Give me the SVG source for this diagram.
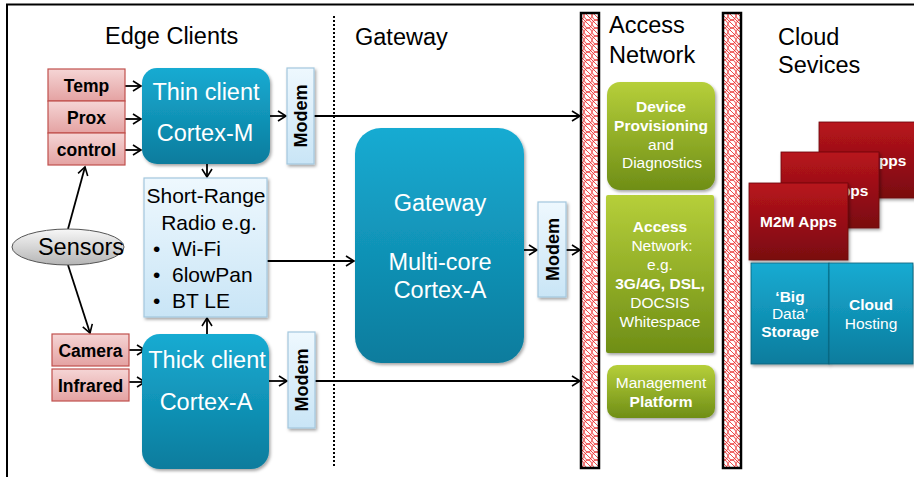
<svg xmlns="http://www.w3.org/2000/svg" width="914" height="477" viewBox="0 0 914 477">
<defs>
<linearGradient id="gTeal" x1="0" y1="0" x2="0" y2="1"><stop offset="0" stop-color="#18abd2"/><stop offset="1" stop-color="#0a7c9d"/></linearGradient>
<linearGradient id="gPink" x1="0" y1="0" x2="0" y2="1"><stop offset="0" stop-color="#f5d5d5"/><stop offset="1" stop-color="#e4a2a2"/></linearGradient>
<linearGradient id="gLight" x1="0" y1="0" x2="0" y2="1"><stop offset="0" stop-color="#eef8fe"/><stop offset="1" stop-color="#c9e5f6"/></linearGradient>
<linearGradient id="gGray" x1="0" y1="0" x2="0" y2="1"><stop offset="0" stop-color="#f7f7f7"/><stop offset="1" stop-color="#b5b5b5"/></linearGradient>
<linearGradient id="gGreen" x1="0" y1="0" x2="0" y2="1"><stop offset="0" stop-color="#b6cf3a"/><stop offset="1" stop-color="#6f8e16"/></linearGradient>
<linearGradient id="gRed" x1="0" y1="0" x2="0" y2="1"><stop offset="0" stop-color="#b8141c"/><stop offset="1" stop-color="#7a0a10"/></linearGradient>
<pattern id="hatch" width="8" height="8" patternUnits="userSpaceOnUse">
<rect width="8" height="8" fill="#fff"/>
<path d="M0,8 Q1,4 4,4 T8,0 M0,0 Q1,4 4,4 T8,8 M0,4 Q2,6 4,8 M4,0 Q6,2 8,4" stroke="#e81e1e" stroke-width="0.8" fill="none"/>
</pattern>
<filter id="sh" x="-10%" y="-10%" width="130%" height="130%"><feDropShadow dx="1.5" dy="2" stdDeviation="1.5" flood-color="#000" flood-opacity="0.35"/></filter>
<marker id="arr" markerUnits="userSpaceOnUse" markerWidth="12" markerHeight="12" refX="9" refY="6" orient="auto"><path d="M1,1 L9,6 L1,11" fill="none" stroke="#000" stroke-width="1.6"/></marker>
<style>
text{font-family:"Liberation Sans",Arial,sans-serif}
.hdr{font-size:23.5px;fill:#000}
.sen{font-size:17.5px;font-weight:bold;fill:#000;text-anchor:middle}
.pink{fill:url(#gPink);stroke:#c0504d;stroke-width:1.2}
.teal{fill:url(#gTeal);filter:url(#sh)}
.wt{font-size:23.5px;fill:#fff;text-anchor:middle}
.modem{fill:url(#gLight);stroke:#a3c7de;stroke-width:1.2;filter:url(#sh)}
.mt{font-size:18px;font-weight:bold;fill:#000;text-anchor:middle}
.green{fill:url(#gGreen);filter:url(#sh)}
.gt{font-size:15.5px;fill:#fff;text-anchor:middle}
.b{font-weight:bold}
.red{fill:url(#gRed);stroke:#6a0a0e;stroke-width:0.8;filter:url(#sh)}
.blue{fill:url(#gTeal);stroke:#0a5f78;stroke-width:0.8;filter:url(#sh)}
.bar{fill:url(#hatch);stroke:#000;stroke-width:2.5}
.ln{stroke:#000;stroke-width:1.8;fill:none}
</style>
</defs>
<rect width="914" height="477" fill="#fff"/>
<path d="M7,477 V4.5 H914" fill="none" stroke="#000" stroke-width="2"/>
<line x1="334" y1="16" x2="334" y2="467" stroke="#000" stroke-width="2" stroke-dasharray="2,2"/>
<rect class="bar" x="581" y="13" width="18" height="455"/>
<rect class="bar" x="723" y="13" width="18" height="455"/>

<text class="hdr" x="105" y="44">Edge Clients</text>
<text class="hdr" x="355" y="45">Gateway</text>
<text class="hdr" x="609" y="33">Access</text>
<text class="hdr" x="609" y="63">Network</text>
<text class="hdr" x="778" y="45">Cloud</text>
<text class="hdr" x="778" y="73">Sevices</text>

<g id="connectors">
<line class="ln" x1="125" y1="86" x2="141" y2="86" marker-end="url(#arr)"/>
<line class="ln" x1="125" y1="119" x2="141" y2="119" marker-end="url(#arr)"/>
<line class="ln" x1="125" y1="150" x2="141" y2="150" marker-end="url(#arr)"/>
<line class="ln" x1="129" y1="350" x2="145" y2="350" marker-end="url(#arr)"/>
<line class="ln" x1="129" y1="382" x2="145" y2="382" marker-end="url(#arr)"/>
<line class="ln" x1="68" y1="229" x2="85" y2="167" marker-end="url(#arr)"/>
<line class="ln" x1="68" y1="265" x2="90" y2="333" marker-end="url(#arr)"/>
<line class="ln" x1="207" y1="164" x2="207" y2="177" marker-end="url(#arr)"/>
<line class="ln" x1="207" y1="334" x2="207" y2="318" marker-end="url(#arr)"/>
<line class="ln" x1="270" y1="116" x2="286" y2="116" marker-end="url(#arr)"/>
<line class="ln" x1="314" y1="116" x2="580" y2="116" marker-end="url(#arr)"/>
<line class="ln" x1="269" y1="381" x2="287" y2="381" marker-end="url(#arr)"/>
<line class="ln" x1="315" y1="381" x2="580" y2="381" marker-end="url(#arr)"/>
<line class="ln" x1="267" y1="261" x2="354" y2="261" marker-end="url(#arr)"/>
<line class="ln" x1="524" y1="250" x2="537" y2="250" marker-end="url(#arr)"/>
<line class="ln" x1="566" y1="250" x2="580" y2="250" marker-end="url(#arr)"/>
</g>

<g id="sensor-stack">
<rect class="pink" x="48" y="69" width="77" height="32"/>
<rect class="pink" x="48" y="101" width="77" height="32"/>
<rect class="pink" x="48" y="133" width="77" height="32"/>
<text class="sen" x="86.5" y="92">Temp</text>
<text class="sen" x="86.5" y="124">Prox</text>
<text class="sen" x="86.5" y="156">control</text>
</g>
<g id="camera">
<rect class="pink" x="52" y="334" width="77" height="32"/>
<text class="sen" x="90.5" y="357">Camera</text>
</g>
<g id="infrared">
<rect class="pink" x="52" y="369" width="77" height="32"/>
<text class="sen" x="90.5" y="392">Infrared</text>
</g>
<g id="sensors">
<ellipse cx="68" cy="247" rx="56" ry="18" fill="url(#gGray)" stroke="#555" stroke-width="1"/>
<text x="81" y="255" font-size="23.5" text-anchor="middle" fill="#000">Sensors</text>
</g>
<g id="thin-client">
<rect class="teal" x="142" y="68" width="128" height="96" rx="15"/>
<text class="wt" x="206" y="100">Thin client</text>
<text class="wt" x="205" y="141">Cortex-M</text>
</g>
<g id="short-range">
<rect x="144" y="178" width="123" height="139" fill="url(#gLight)" stroke="#a3c7de" stroke-width="1.2" filter="url(#sh)"/>
<text x="206" y="203" font-size="21" text-anchor="middle">Short-Range</text>
<text x="209" y="230" font-size="21" text-anchor="middle">Radio e.g.</text>
<text x="153" y="256" font-size="21">•</text>
<text x="172" y="256" font-size="21">Wi-Fi</text>
<text x="153" y="282" font-size="21">•</text>
<text x="172" y="282" font-size="21">6lowPan</text>
<text x="153" y="308" font-size="21">•</text>
<text x="172" y="308" font-size="21">BT LE</text>
</g>
<g id="thick-client">
<rect class="teal" x="142" y="334" width="127" height="135" rx="18"/>
<text class="wt" x="207" y="368">Thick client</text>
<text class="wt" x="206" y="410">Cortex-A</text>
</g>
<g id="modem1">
<rect class="modem" x="287" y="68" width="27" height="96"/>
<text class="mt" transform="translate(307,116) rotate(-90)">Modem</text>
</g>
<g id="modem2">
<rect class="modem" x="288" y="332" width="27" height="96"/>
<text class="mt" transform="translate(308,380) rotate(-90)">Modem</text>
</g>
<g id="gateway">
<rect class="teal" x="355" y="128" width="169" height="235" rx="26"/>
<text class="wt" x="440" y="211">Gateway</text>
<text class="wt" x="440" y="270">Multi-core</text>
<text class="wt" x="440" y="298">Cortex-A</text>
</g>
<g id="modem3">
<rect class="modem" x="538" y="202" width="28" height="95"/>
<text class="mt" transform="translate(558.5,249.5) rotate(-90)">Modem</text>
</g>
<g id="device-provisioning">
<rect class="green" x="607" y="82" width="108" height="108" rx="13"/>
<text class="gt b" x="661" y="112">Device</text>
<text class="gt b" x="661" y="131">Provisioning</text>
<text class="gt" x="661" y="150">and</text>
<text class="gt" x="662" y="168">Diagnostics</text>
</g>
<g id="access-network">
<rect class="green" x="606" y="195" width="108" height="158" rx="2"/>
<text class="gt b" x="660" y="232">Access</text>
<text class="gt" x="662" y="251">Network:</text>
<text class="gt" x="660" y="270">e.g.</text>
<text class="gt b" x="660" y="289">3G/4G, DSL,</text>
<text class="gt" x="660" y="308">DOCSIS</text>
<text class="gt" x="660" y="327">Whitespace</text>
</g>
<g id="management-platform">
<rect class="green" x="607" y="365" width="108" height="53" rx="10"/>
<text class="gt" x="661" y="388">Management</text>
<text class="gt b" x="661" y="407">Platform</text>
</g>
<g id="m2m-apps-3">
<rect class="red" x="819" y="122" width="99" height="76"/>
<text class="gt b" x="868" y="166">M2M Apps</text>
</g>
<g id="m2m-apps-2">
<rect class="red" x="781" y="152" width="98" height="76"/>
<text class="gt b" x="830" y="196">M2M Apps</text>
</g>
<g id="m2m-apps-1">
<rect class="red" x="749" y="183" width="99" height="77"/>
<text class="gt b" x="798.5" y="227">M2M Apps</text>
</g>
<g id="big-data-storage">
<rect class="blue" x="751" y="263" width="78" height="101"/>
<text class="gt b" x="790" y="302">‘Big</text>
<text class="gt" x="790" y="319">Data’</text>
<text class="gt b" x="790" y="337">Storage</text>
</g>
<g id="cloud-hosting">
<rect class="blue" x="829" y="263" width="84" height="101"/>
<text class="gt b" x="871" y="310">Cloud</text>
<text class="gt" x="871" y="329">Hosting</text>
</g>
</svg>
